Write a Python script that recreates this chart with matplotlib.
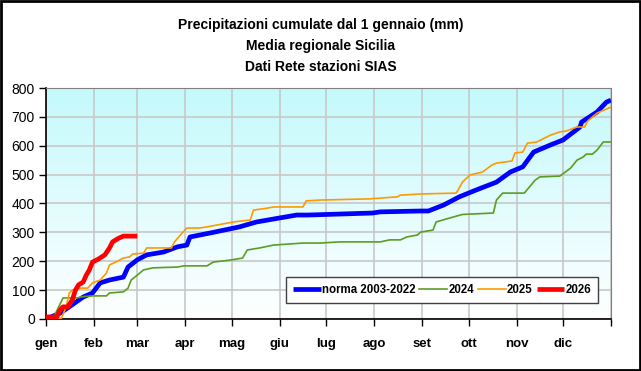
import matplotlib
matplotlib.use("Agg")
import matplotlib.pyplot as plt
import numpy as np
from matplotlib.patches import Rectangle

plt.rcParams['font.family'] = ['Liberation Sans', 'DejaVu Sans']

# giorni dell'anno e precipitazioni cumulate (mm)
norma_x = [0, 9, 15, 24, 30, 35, 41, 50, 53, 59, 65, 76, 85, 91, 93, 108, 125, 136,
           151, 162, 169, 211, 216, 242, 247, 257, 267, 278, 291, 300, 308, 315,
           326, 334, 345, 346, 356, 362, 365]
norma_y = [0, 20, 42, 76, 90, 125, 135, 145, 180, 205, 222, 232, 250, 256, 284, 300, 319, 336,
           350, 360, 360, 367, 371, 374, 374, 395, 423, 447, 474, 509, 527, 578,
           603, 620, 665, 682, 717, 751, 758]

y2024_x = [0, 5, 11, 20, 23, 30, 39, 41, 50, 53, 55, 59, 63, 69, 85, 89, 104, 108, 119,
           127, 130, 138, 147, 166, 177, 190, 216, 222, 229, 233, 240, 242, 250, 252,
           261, 269, 289, 291, 295, 309, 316, 319, 332, 339, 343, 347, 349, 353, 356,
           360, 365]
y2024_y = [0, 7, 73, 73, 77, 80, 80, 90, 94, 107, 135, 152, 170, 177, 180, 184, 184, 197, 204,
           211, 239, 246, 256, 263, 263, 267, 267, 274, 274, 284, 291, 301, 308, 336,
           350, 362, 367, 412, 436, 436, 481, 492, 495, 523, 550, 561, 571, 571, 585,
           613, 613]

y2025_x = [0, 10, 13, 15, 17, 22, 27, 30, 35, 39, 41, 45, 50, 54, 56, 63, 65, 81, 83, 88,
           91, 99, 104, 117, 121, 132, 134, 143, 147, 166, 168, 177, 209, 227, 229,
           242, 265, 267, 269, 274, 282, 288, 291, 301, 303, 308, 311, 317, 326, 332,
           336, 343, 348, 350, 356, 365]
y2025_y = [0, 3, 42, 90, 100, 107, 107, 125, 135, 159, 187, 197, 211, 215, 225, 228, 246, 246, 267, 298,
           315, 315, 319, 332, 336, 343, 377, 384, 388, 388, 409, 412, 416, 423, 429,
           433, 436, 454, 474, 499, 509, 533, 540, 547, 575, 578, 609, 613, 637, 648,
           651, 665, 665, 686, 713, 734]

y2026_x = [0, 7, 9, 11, 14, 17, 19, 21, 24, 26, 28, 30, 34, 38, 41, 43, 47, 50, 59]
y2026_y = [7, 7, 31, 42, 42, 66, 100, 118, 128, 152, 170, 197, 208, 222, 246, 267, 280, 287, 287]

mesi = ['gen', 'feb', 'mar', 'apr', 'mag', 'giu', 'lug', 'ago', 'set', 'ott', 'nov', 'dic']
inizio_mese = [0, 31, 59, 90, 120, 151, 181, 212, 243, 273, 304, 334, 365]

fig = plt.figure(figsize=(6.41, 3.71), dpi=100)
ax = fig.add_axes([0.0718, 0.1402, 0.8814, 0.6226])

# sfondo sfumato dell'area del grafico
grad = np.linspace(0, 1, 256).reshape(-1, 1)
ax.imshow(grad, cmap=matplotlib.colors.LinearSegmentedColormap.from_list(
    'sf', ['#ffffff', '#c4f9fc']), aspect='auto', extent=[0, 1, 0, 1],
    transform=ax.transAxes, origin='lower', zorder=0)

ax.plot(norma_x, norma_y, color='#0000ff', lw=3.4, label='norma 2003-2022', zorder=3,
        solid_capstyle='butt')
ax.plot(y2024_x, y2024_y, color='#5a9e20', lw=1.2, label='2024', zorder=4)
ax.plot(y2025_x, y2025_y, color='#ff9900', lw=1.2, label='2025', zorder=5)
ax.plot(y2026_x, y2026_y, color='#ff0000', lw=3.4, label='2026', zorder=6,
        solid_capstyle='butt')

ax.set_xlim(0, 365)
ax.set_ylim(0, 800)
ax.set_yticks(range(0, 801, 100))
ax.set_xticks(inizio_mese)
ax.set_xticklabels(mesi + [''], fontweight='bold', fontsize=9.5)
ax.tick_params(axis='x', direction='out', length=5, pad=9, width=1)
ax.tick_params(axis='y', direction='out', length=5, pad=3, labelsize=10, width=1)
ax.grid(True, color='#c8c8c8', lw=1.2, zorder=1)
ax.set_axisbelow(True)
for lato in ['top', 'right']:
    ax.spines[lato].set_color('#808080')
for lato in ['left', 'bottom']:
    ax.spines[lato].set_color('black')
    ax.spines[lato].set_linewidth(1.2)

leg = ax.legend(loc='lower right', bbox_to_anchor=(0.977, 0.069), borderaxespad=0,
                ncol=4, fancybox=False, edgecolor='#404040', framealpha=1,
                handlelength=2.4, handletextpad=0.1, columnspacing=0.35, borderpad=0.6,
                prop={'weight': 'bold', 'size': 8.3})
leg.get_frame().set_linewidth(1.0)
leg.set_zorder(10)

fig.text(0.5, 0.932, 'Precipitazioni cumulate dal 1 gennaio (mm)', ha='center', va='center',
         fontweight='bold', fontsize=10)
fig.text(0.5, 0.876, 'Media regionale Sicilia', ha='center', va='center',
         fontweight='bold', fontsize=10)
fig.text(0.5, 0.820, 'Dati Rete stazioni SIAS', ha='center', va='center',
         fontweight='bold', fontsize=10)

fig.patches.append(Rectangle((0.002, 0.003), 0.996, 0.994, transform=fig.transFigure,
                             fill=False, edgecolor='black', lw=2))

fig.savefig('out.png', dpi=100)
